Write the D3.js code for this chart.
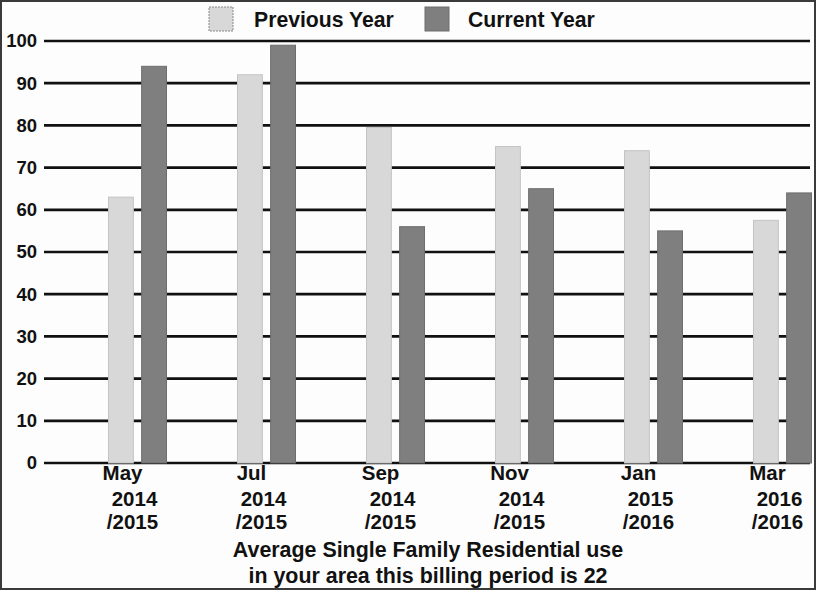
<!DOCTYPE html>
<html>
<head>
<meta charset="utf-8">
<script src="https://cdn.jsdelivr.net/npm/d3@7"></script>
<style>
  body { margin: 0; background: #fff; }
  svg { display: block; font-family: "Liberation Sans", Arial, sans-serif; font-weight: bold; }
</style>
</head>
<body>
<svg id="chart" width="817" height="592"></svg>
<script>
const months = ['May', 'Jul', 'Sep', 'Nov', 'Jan', 'Mar']
const yearLine1 = ['2014', '2014', '2014', '2014', '2015', '2016']
const yearLine2 = ['/2015', '/2015', '/2015', '/2015', '/2016', '/2016']
const previousYear = [63, 92, 79.5, 75, 74, 57.5]
const currentYear = [94, 99, 56, 65, 55, 64]
const yTicks = [0, 10, 20, 30, 40, 50, 60, 70, 80, 90, 100]
const seriesNames = ['Previous Year', 'Current Year']
const seriesColors = ['#d8d8d8', '#7f7f7f']
const footnote = ['Average Single Family Residential use', 'in your area this billing period is 22']

const svg = d3.select('#chart')

svg.append('rect')
  .attr('x', 1).attr('y', 1)
  .attr('width', 814).attr('height', 588)
  .attr('fill', '#fdfdfd')
  .attr('stroke', '#3a3a3a')
  .attr('stroke-width', 2)

const y = d3.scaleLinear().domain([0, 100]).range([463, 41])
const x0 = d3.scaleBand().domain(months).range([74, 848])
const x1 = d3.scaleBand().domain(seriesNames).range([-30, 28]).paddingInner(0.25)

// gridlines
svg.append('g')
  .selectAll('line')
  .data(yTicks)
  .enter()
  .append('line')
  .attr('x1', 44)
  .attr('x2', 810)
  .attr('y1', d => y(d))
  .attr('y2', d => y(d))
  .attr('stroke', '#111')
  .attr('stroke-width', 2.7)

// y tick labels
svg.append('g')
  .selectAll('text')
  .data(yTicks)
  .enter()
  .append('text')
  .attr('x', 37)
  .attr('y', d => y(d))
  .attr('dy', '0.35em')
  .attr('text-anchor', 'end')
  .attr('font-size', 18.5)
  .attr('fill', '#111')
  .text(d => d)

// bars
const rows = months.map((m, i) => ({ month: m, values: [previousYear[i], currentYear[i]] }))
const groups = svg.append('g')
  .selectAll('g')
  .data(rows)
  .enter()
  .append('g')
  .attr('transform', d => `translate(${x0(d.month) + x0.bandwidth() / 2},0)`)

groups.selectAll('rect')
  .data(d => d.values.map((v, k) => ({ key: seriesNames[k], value: v, k })))
  .enter()
  .append('rect')
  .attr('x', d => x1(d.key))
  .attr('width', x1.bandwidth())
  .attr('y', d => y(d.value))
  .attr('height', d => y(0) - y(d.value))
  .attr('fill', d => seriesColors[d.k])
  .attr('stroke', d => d.k === 0 ? '#c4c4c4' : '#6e6e6e')
  .attr('stroke-width', 1)

// x labels
const labels = svg.append('g')
  .selectAll('g')
  .data(months.map((m, i) => ({ month: m, l1: yearLine1[i], l2: yearLine2[i] })))
  .enter()
  .append('g')
  .attr('transform', d => `translate(${x0(d.month) + x0.bandwidth() / 2},0)`)
  .attr('font-size', 20.5)
  .attr('fill', '#111')
  .attr('text-anchor', 'middle')

labels.append('text').attr('x', -16).attr('y', 480).text(d => d.month)
labels.append('text').attr('x', -4).attr('y', 506).text(d => d.l1)
labels.append('text').attr('x', -6).attr('y', 529).text(d => d.l2)

// footnote
svg.append('g')
  .selectAll('text')
  .data(footnote)
  .enter()
  .append('text')
  .attr('x', 428)
  .attr('y', (d, i) => 557 + i * 26)
  .attr('text-anchor', 'middle')
  .attr('font-size', 21.4)
  .attr('fill', '#111')
  .text(d => d)

// legend
const legendX = [209, 425]
const legend = svg.append('g')
  .selectAll('g')
  .data(seriesNames)
  .enter()
  .append('g')
  .attr('transform', (d, i) => `translate(${legendX[i]},7)`)

legend.append('rect')
  .attr('width', 24)
  .attr('height', 24)
  .attr('fill', (d, i) => seriesColors[i])
  .attr('stroke', (d, i) => i === 0 ? '#888' : '#6e6e6e')
  .attr('stroke-dasharray', (d, i) => i === 0 ? '2,1' : null)

legend.append('text')
  .attr('x', (d, i) => i === 0 ? 45 : 43)
  .attr('y', 20)
  .attr('font-size', 21.2)
  .attr('fill', '#111')
  .text(d => d)
</script>
</body>
</html>
